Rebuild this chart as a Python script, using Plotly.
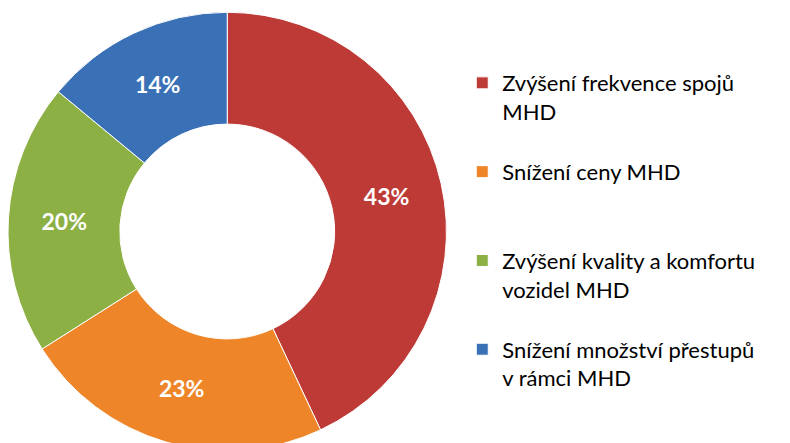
import plotly.graph_objects as go

# padded with blank lines so every legend entry takes the same height
labels = [
    "Zvýšení frekvence spojů<br>MHD<br> ",
    "Snížení ceny MHD<br> <br> ",
    "Zvýšení kvality a komfortu<br>vozidel MHD<br> ",
    "Snížení množství přestupů<br>v rámci MHD",
]
values = [43, 23, 20, 14]
colors = ["#BE3A37", "#EE8528", "#8CB044", "#3A70B6"]

fig = go.Figure()
fig.add_trace(
    go.Pie(
        labels=labels,
        values=values,
        hole=0.49,
        sort=False,
        direction="clockwise",
        rotation=0,
        marker=dict(colors=colors, line=dict(color="white", width=1)),
        texttemplate="%{percent:.0%}",
        textposition="inside",
        insidetextorientation="horizontal",
        textfont=dict(family="Lato", size=23, color="white", weight="bold"),
        domain=dict(x=[0, 0.555], y=[0, 1]),
        showlegend=True,
    )
)

fig.update_layout(
    width=790,
    height=443,
    margin=dict(l=0, r=0, t=4, b=0),
    paper_bgcolor="white",
    plot_bgcolor="white",
    font=dict(family="Lato", size=22, color="black"),
    legend=dict(
        x=0.575,
        xanchor="left",
        y=0.886,
        yanchor="top",
        valign="top",
        font=dict(family="Lato", size=22, color="black"),
    ),
)

fig.write_html("out.html")
